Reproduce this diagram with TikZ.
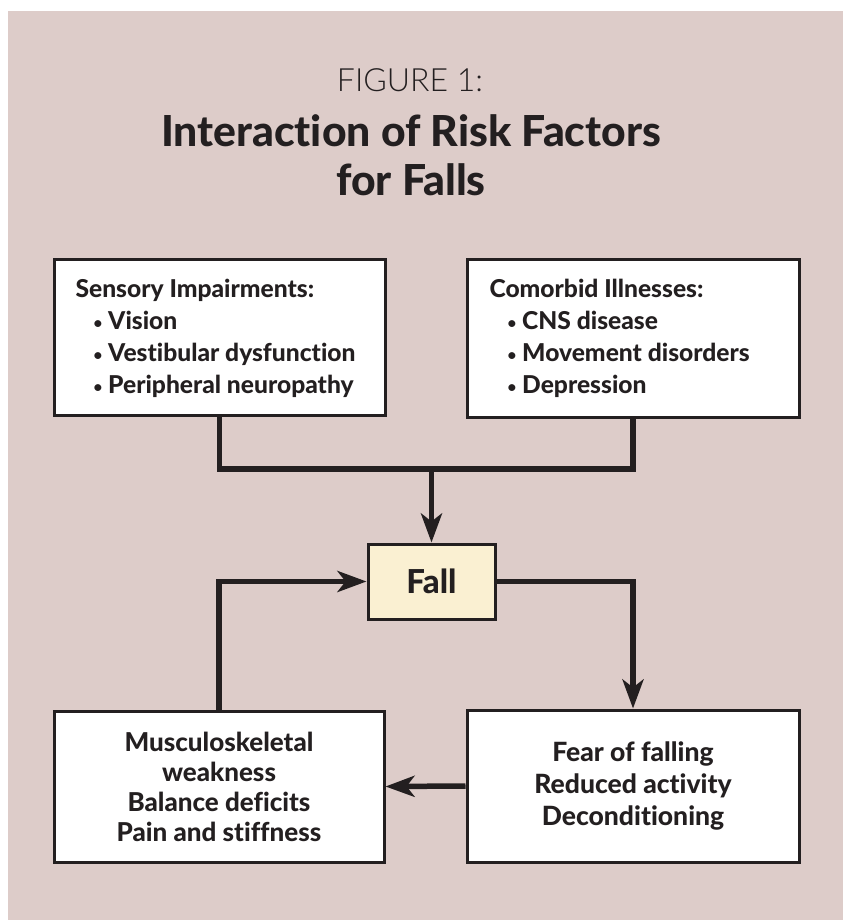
\documentclass[tikz,border=0pt]{standalone}
\usepackage{fontspec}
\setmainfont{Lato}[Ligatures=NoCommon]
\IfFontExistsTF{Lato Light}{\newfontfamily\lightfont{Lato Light}}{\newfontfamily\lightfont{Lato}}
\IfFontExistsTF{Lato Heavy}{\newfontfamily\heavyfont{Lato Heavy}[Ligatures=NoCommon]}{%
  \IfFontExistsTF{Lato Black}{\newfontfamily\heavyfont{Lato Black}[Ligatures=NoCommon]}{\newcommand\heavyfont{\bfseries}}}
\usetikzlibrary{arrows.meta}
\definecolor{bgpink}{RGB}{221,204,201}
\definecolor{fallfill}{RGB}{250,240,210}
\definecolor{ink}{RGB}{35,31,32}
\newcommand\bul{\hspace*{18pt}\raisebox{1pt}{\fontsize{15}{15}\selectfont•}\hspace{6pt}}
\begin{document}
\begin{tikzpicture}[x=1pt,y=-1pt,
  box/.style={draw=ink,line width=3pt,fill=white,rectangle,inner sep=0pt,text=ink},
  boxtext/.style={text=ink,font=\heavyfont\fontsize{24.6}{32}\selectfont},
  conn/.style={draw=ink,line width=5.5pt},
  arr/.style={conn,-{Stealth[length=29pt,width=21pt,inset=8pt]}}]
\useasboundingbox (0,0) rectangle (843,920);
\fill[bgpink] (8,11) rectangle (843,920);
% titles
\node[anchor=base,text=ink,font=\lightfont\fontsize{32}{40}\selectfont] (fig) at (410,92) {FIGURE 1:};
\node[anchor=base,text=ink,font=\heavyfont\fontsize{42.7}{48}\selectfont] (t1) at (411,147) {Interaction of Risk Factors};
\node[anchor=base,text=ink,font=\heavyfont\fontsize{42.7}{48}\selectfont] (t2) at (411,195) {for Falls};
% boxes
\node[box,minimum width=331pt,minimum height=156pt] (sens) at (219.5,337) {};
\node[boxtext,anchor=west,align=left] (senst) at (72,338)
  {Sensory Impairments:\\
   \bul Vision\\
   \bul Vestibular dysfunction\\
   \bul Peripheral neuropathy};
\node[box,minimum width=332pt,minimum height=158pt] (como) at (633,338) {};
\node[boxtext,anchor=west,align=left] (comot) at (486,338)
  {Comorbid Illnesses:\\
   \bul CNS disease\\
   \bul Movement disorders\\
   \bul Depression};
\node[box,fill=fallfill,minimum width=127pt,minimum height=75pt,font=\heavyfont\fontsize{33}{34}\selectfont] (fall) at (431.5,581.5) {Fall};
\node[box,align=center,minimum width=330pt,minimum height=151pt,font=\heavyfont\fontsize{26}{30}\selectfont] (musc) at (219,786.5)
  {Musculoskeletal\\weakness\\Balance deficits\\Pain and stiffness};
\node[box,align=center,minimum width=332pt,minimum height=152pt,font=\heavyfont\fontsize{26.5}{32}\selectfont] (fear) at (633,786)
  {Fear of falling\\Reduced activity\\Deconditioning};
% connectors
\coordinate (j) at (431.5,469);
\draw[conn] (sens.south) |- (j) -| (como.south);
\draw[arr] (j) -- (fall.north);
\draw[arr] (fall.east) -| (fear.north);
\draw[arr] (fear.west) -- (musc.east);
\draw[arr] (musc.north) |- (fall.west);
\end{tikzpicture}
\end{document}
